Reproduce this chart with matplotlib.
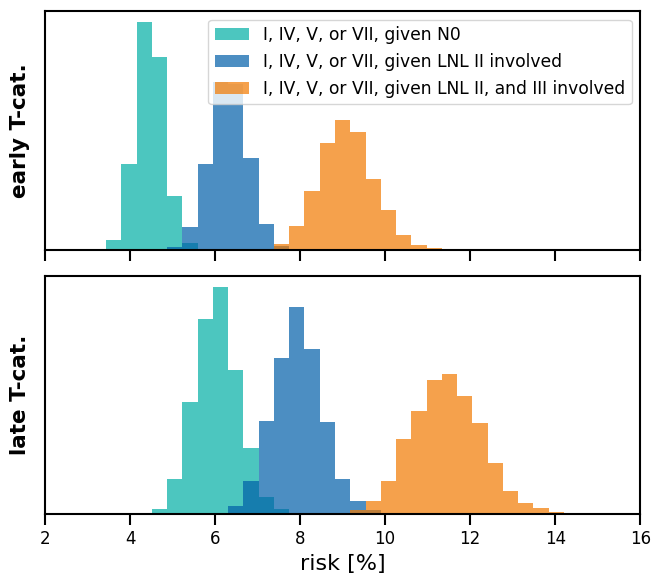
import numpy as np
import matplotlib.pyplot as plt

# shared bin edges of all histograms
bins = np.linspace(2, 16, 40)

labels = ["I, IV, V, or VII, given N0",
          "I, IV, V, or VII, given LNL II involved",
          "I, IV, V, or VII, given LNL II, and III involved"]
colors = ["#00afa5", "#005ea8", "#f17900"]

# bar heights (arbitrary units), each list starts at bin index *_start
early_n0_start = 4
early_n0 = [9.7, 85.7, 227, 192.7, 54, 7]
early_ii_start = 8
early_ii = [2.7, 23, 85.7, 167, 165, 91, 25.7, 4]
early_iii_start = 15
early_iii = [6, 23.5, 59, 106, 129, 117, 70.7, 39.7, 14.3, 4.7, 1.5]

late_n0_start = 7
late_n0 = [5.3, 35.6, 112.3, 195, 226.6, 144.3, 66, 16.7, 5, 1]
late_ii_start = 11
late_ii = [1, 8, 33.5, 93.3, 156, 206.3, 165, 92.3, 35, 13.3, 4.3]
late_iii_start = 18
late_iii = [1, 1, 4.3, 13.3, 32.7, 74.7, 103, 134, 140, 118.3, 91.3, 51.3,
            23.3, 11.3, 6, 2]

centers = 0.5 * (bins[:-1] + bins[1:])

def draw(ax, start, heights, color, label):
    x = centers[start:start + len(heights)]
    ax.hist(x, bins=bins, weights=heights, color=color, alpha=0.7,
            label=label)

fig, (ax1, ax2) = plt.subplots(2, 1, figsize=(6.52, 5.83), dpi=100, sharex=True)
fig.subplots_adjust(left=0.069, right=0.982, top=0.981, bottom=0.118, hspace=0.11)

draw(ax1, early_n0_start, early_n0, colors[0], labels[0])
draw(ax1, early_ii_start, early_ii, colors[1], labels[1])
draw(ax1, early_iii_start, early_iii, colors[2], labels[2])

draw(ax2, late_n0_start, late_n0, colors[0], labels[0])
draw(ax2, late_ii_start, late_ii, colors[1], labels[1])
draw(ax2, late_iii_start, late_iii, colors[2], labels[2])

for ax, name in zip([ax1, ax2], ["early T-cat.", "late T-cat."]):
    ax.set_xlim(2, 16)
    ax.set_yticks([])
    ax.set_ylabel(name, fontsize=15.5, fontweight="bold", labelpad=11)
    ax.tick_params(axis="x", length=8, width=1.5, labelsize=12)
    for s in ax.spines.values():
        s.set_linewidth(1.5)

ax2.set_xticks(np.arange(2, 17, 2))
ax2.set_xlabel("risk [%]", fontsize=16)
ax1.legend(loc="upper right", fontsize=12.3)

plt.savefig("out.png")
